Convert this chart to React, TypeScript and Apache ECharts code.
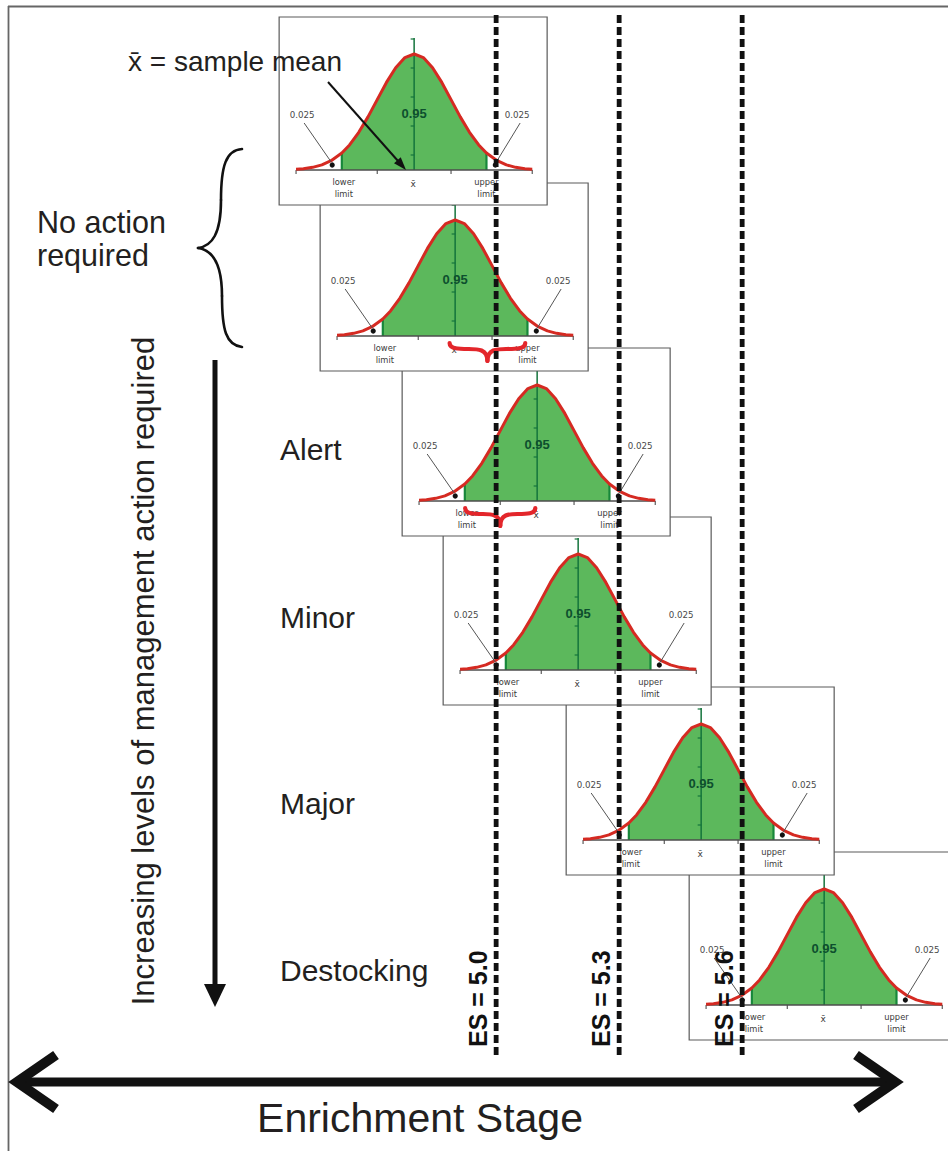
import React, { useEffect, useRef } from "react";
import * as echarts from "echarts";

// ---------------- data ----------------
// sample means (enrichment stage units) of the six distributions, top to bottom
const PANEL_MEANS = [4.8, 4.9, 5.1, 5.2, 5.5, 5.8];
// standard error of each sampling distribution (ES units)
const SIGMA = 0.09;
// normal curve shape: offsets in sigma and relative heights
const CURVE_Z = [-3.2, -3, -2.75, -2.5, -2.25, -1.96, -1.75, -1.5, -1.25, -1, -0.75, -0.5, -0.25, 0, 0.25, 0.5, 0.75, 1, 1.25, 1.5, 1.75, 1.96, 2.25, 2.5, 2.75, 3, 3.2];
const CURVE_H = [0.006, 0.011, 0.023, 0.044, 0.08, 0.146, 0.216, 0.325, 0.458, 0.607, 0.755, 0.882, 0.969, 1, 0.969, 0.882, 0.755, 0.607, 0.458, 0.325, 0.216, 0.146, 0.08, 0.044, 0.023, 0.011, 0.006];
const LIMIT_Z = 1.96;
const TAIL_LABEL = "0.025";
const CENTER_LABEL = "0.95";
const LOWER_LABEL = ["lower", "limit"];
const UPPER_LABEL = ["upper", "limit"];
const MEAN_SYMBOL = "x\u0304";
// thresholds
const THRESHOLDS = [5.0, 5.3, 5.6];
const THRESHOLD_LABELS = ["ES = 5.0", "ES = 5.3", "ES = 5.6"];
// red braces (span in sigma units) for panels 2 and 3
const BRACE_SPANS: (number[] | null)[] = [null, [-0.15, 1.9], [-1.95, -0.05], null, null, null];
// text
const NO_ACTION_LINES = ["No action", "required"];
const LEVEL_LABELS = ["Alert", "Minor", "Major", "Destocking"];
const SIDE_TITLE = "Increasing levels of management action required";
const AXIS_TITLE = "Enrichment Stage";
const MEAN_NOTE = "x\u0304 = sample mean";

// ---------------- layout ----------------
const LAYOUT = {
  width: 948,
  height: 1151,
  esMin: 3.79,
  esMax: 6.102,
  panelBaseY: [170, 336, 501, 670, 840, 1005],
  peak: 116,
  boxLeft: 135,
  boxW: 268,
  boxTop: 153,
  boxH: 188,
  esTop: 15,
  esBottom: 1058,
  esLabelBottom: 1047,
  levelY: [449, 617, 803, 970],
};

const SANS = '"Liberation Sans", Arial, Helvetica, sans-serif';
const SMALL = '"DejaVu Sans", Verdana, sans-serif';
const INK = "#231f20";

function txt(x: number, y: number, text: string, o: any = {}) {
  const align = o.align || "left";
  const va = o.va || "middle";
  return {
    type: "text",
    x,
    y,
    rotation: o.rotation || 0,
    z: o.z,
    z2: o.z2,
    style: {
      text,
      fill: o.fill || INK,
      fontSize: o.size || 12,
      fontFamily: o.family || SANS,
      fontWeight: o.weight || "normal",
      align,
      textAlign: align,
      verticalAlign: va,
      textVerticalAlign: va,
    },
  };
}

function seg(x1: number, y1: number, x2: number, y2: number, stroke: string, lw: number, extra: any = {}) {
  return {
    type: "line",
    shape: { x1, y1, x2, y2 },
    style: { stroke, lineWidth: lw, fill: "none", ...(extra.style || {}) },
    z: extra.z,
    z2: extra.z2,
  };
}

function renderPanel(params: any, api: any) {
  const mean = api.value(0) as number;
  const baseY = api.value(1) as number;
  const idx = api.value(2) as number;
  let zc = (10 - idx) * 60;
  const nz = () => zc++;
  const pt = (zz: number, h: number) => api.coord([mean + zz * SIGMA, baseY - h * LAYOUT.peak]);
  const [cx, by] = api.coord([mean, baseY]);
  const ch: any[] = [];

  ch.push({
    type: "rect",
    shape: { x: cx - LAYOUT.boxLeft, y: by - LAYOUT.boxTop, width: LAYOUT.boxW, height: LAYOUT.boxH },
    style: { fill: "#ffffff", stroke: "#5a5a5a", lineWidth: 1.2 },
    z2: nz(),
  });

  // green 95% area
  const green: number[][] = [];
  CURVE_Z.forEach((zz, i) => {
    if (zz >= -LIMIT_Z - 1e-9 && zz <= LIMIT_Z + 1e-9) green.push(pt(zz, CURVE_H[i]));
  });
  green.push(pt(LIMIT_Z, 0));
  green.push(pt(-LIMIT_Z, 0));
  ch.push({ type: "polygon", shape: { points: green }, style: { fill: "#5cb85c", stroke: "none" }, z2: nz() });

  // limit lines
  const hL = CURVE_H[CURVE_Z.indexOf(-LIMIT_Z)];
  [-1, 1].forEach((s) => {
    const a = pt(s * LIMIT_Z, 0);
    const b = pt(s * LIMIT_Z, hL);
    ch.push(seg(a[0], a[1], b[0], b[1], "#17873a", 2.2, { z2: nz() }));
  });

  // center vertical axis with ticks
  ch.push(seg(cx, by, cx, by - 132, "#14743c", 1.5, { z2: nz() }));
  for (let k = 0; k < 5; k++) {
    const ty = by - 15 - 29 * k;
    ch.push(seg(cx - 3.5, ty, cx, ty, "#14743c", 1.2, { z2: nz() }));
  }

  // baseline axis
  const l0 = pt(CURVE_Z[0], 0);
  const l1 = pt(CURVE_Z[CURVE_Z.length - 1], 0);
  ch.push(seg(l0[0], l0[1], l1[0], l1[1], "#4d4d4d", 1.3, { z2: nz() }));
  [CURVE_Z[0], -1, 1, CURVE_Z[CURVE_Z.length - 1]].forEach((zz) => {
    const p = pt(zz, 0);
    ch.push(seg(p[0], p[1], p[0], p[1] + 4, "#4d4d4d", 1.1, { z2: nz() }));
  });

  // red curve
  ch.push({
    type: "polyline",
    shape: { points: CURVE_Z.map((zz, i) => pt(zz, CURVE_H[i])) },
    style: { stroke: "#d52a22", lineWidth: 3, fill: "none", lineJoin: "round" },
    z2: nz(),
  });

  // tail dots and leader lines
  const dl = pt(-2.22, 0);
  const dr = pt(2.2, 0);
  ch.push({ type: "circle", shape: { cx: dl[0], cy: dl[1] - 5, r: 2.6 }, style: { fill: "#111" }, z2: nz() });
  ch.push({ type: "circle", shape: { cx: dr[0], cy: dr[1] - 5, r: 2.6 }, style: { fill: "#111" }, z2: nz() });
  ch.push(seg(cx - 110, by - 47, dl[0] - 1, by - 8, "#555", 1, { z2: nz() }));
  ch.push(seg(cx + 106, by - 47, dr[0] + 1, by - 8, "#555", 1, { z2: nz() }));
  ch.push(txt(cx - 112, by - 55, TAIL_LABEL, { align: "center", size: 8.7, family: SMALL, fill: "#4a4a4a", z2: nz() }));
  ch.push(txt(cx + 103, by - 55, TAIL_LABEL, { align: "center", size: 8.7, family: SMALL, fill: "#4a4a4a", z2: nz() }));

  // 0.95
  ch.push(txt(cx, by - 57, CENTER_LABEL, { align: "center", size: 13, weight: "bold", fill: "#0d4f2e", z2: nz() }));

  // labels below the axis
  const xl = pt(-LIMIT_Z, 0)[0] + 2;
  const xu = pt(LIMIT_Z, 0)[0];
  ch.push(txt(xl, by + 12, LOWER_LABEL[0], { align: "center", size: 8.3, family: SMALL, fill: "#3a3a3a", z2: nz() }));
  ch.push(txt(xl, by + 24, LOWER_LABEL[1], { align: "center", size: 8.3, family: SMALL, fill: "#3a3a3a", z2: nz() }));
  ch.push(txt(xu, by + 12, UPPER_LABEL[0], { align: "center", size: 8.3, family: SMALL, fill: "#3a3a3a", z2: nz() }));
  ch.push(txt(xu, by + 24, UPPER_LABEL[1], { align: "center", size: 8.3, family: SMALL, fill: "#3a3a3a", z2: nz() }));
  ch.push(txt(cx - 1, by + 14, MEAN_SYMBOL, { align: "center", size: 9, family: SMALL, fill: "#3a3a3a", z2: nz() }));

  // red brace
  const span = BRACE_SPANS[idx];
  if (span) {
    const xa = pt(span[0], 0)[0];
    const xb = pt(span[1], 0)[0];
    const w = xb - xa;
    const xm = (xa + xb) / 2;
    const t = by + 7;
    const m = by + 13;
    const p = by + 25;
    const bz = (x1: number, y1: number, c1x: number, c1y: number, c2x: number, c2y: number, x2: number, y2: number) => ({
      type: "bezierCurve",
      shape: { x1, y1, cpx1: c1x, cpy1: c1y, cpx2: c2x, cpy2: c2y, x2, y2 },
      style: { stroke: "#e3262b", lineWidth: 4.2, fill: "none", lineCap: "round" },
      z2: nz(),
    });
    ch.push(bz(xa, t, xa, m, xa + w / 8, m, xa + w / 4, m));
    ch.push(bz(xa + w / 4, m, xm - w / 8, m, xm, m, xm, p));
    ch.push(bz(xm, p, xm, m, xm + w / 8, m, xb - w / 4, m));
    ch.push(bz(xb - w / 4, m, xb - w / 8, m, xb, m, xb, t));
  }

  return { type: "group", children: ch };
}

function renderThreshold(params: any, api: any) {
  const es = api.value(0) as number;
  const i = api.value(2) as number;
  const [x, yTop] = api.coord([es, LAYOUT.esTop]);
  const [, yBot] = api.coord([es, LAYOUT.esBottom]);
  const [, yLab] = api.coord([es, LAYOUT.esLabelBottom]);
  return {
    type: "group",
    children: [
      {
        type: "line",
        shape: { x1: x, y1: yTop, x2: x, y2: yBot },
        style: { stroke: "#111111", lineWidth: 4.8, lineDash: [8, 4], fill: "none" },
      },
      txt(x - 18, yLab, THRESHOLD_LABELS[i], { rotation: Math.PI / 2, size: 25, weight: "bold", fill: "#111" }),
    ],
  };
}

function buildGraphic() {
  const Z = 100;
  const els: any[] = [];
  // frame
  els.push(seg(8, 6.5, 948, 6.5, "#666", 1.8, { z: Z }));
  els.push(seg(8.5, 6, 8.5, 1151, "#666", 1.8, { z: Z }));

  // mean annotation
  els.push(txt(128, 61, MEAN_NOTE, { size: 28, z: Z }));
  const ax0 = 328, ay0 = 82, ax1 = 406, ay1 = 170;
  const dx = ax1 - ax0, dy = ay1 - ay0;
  const len = Math.hypot(dx, dy);
  const ux = dx / len, uy = dy / len;
  const nx = -uy, ny = ux;
  els.push(seg(ax0, ay0, ax1 - ux * 8, ay1 - uy * 8, "#111", 2, { z: Z }));
  els.push({
    type: "polygon",
    shape: {
      points: [
        [ax1, ay1],
        [ax1 - ux * 13 + nx * 4.5, ay1 - uy * 13 + ny * 4.5],
        [ax1 - ux * 13 - nx * 4.5, ay1 - uy * 13 - ny * 4.5],
      ],
    },
    style: { fill: "#111" },
    z: Z,
  });

  // no action required + brace
  els.push(txt(37, 221.5, NO_ACTION_LINES[0], { size: 30.5, z: Z }));
  els.push(txt(37, 254.5, NO_ACTION_LINES[1], { size: 30.5, z: Z }));
  const braceStyle = { stroke: "#111", lineWidth: 2.6, fill: "none", lineCap: "round" };
  const bc = (x1: number, y1: number, c1x: number, c1y: number, c2x: number, c2y: number, x2: number, y2: number) => ({
    type: "bezierCurve",
    shape: { x1, y1, cpx1: c1x, cpy1: c1y, cpx2: c2x, cpy2: c2y, x2, y2 },
    style: braceStyle,
    z: Z,
  });
  els.push(bc(242, 149, 226, 150, 221, 166, 221, 200));
  els.push(bc(221, 200, 221, 234, 212, 246, 198, 248));
  els.push(bc(198, 248, 212, 250, 222, 262, 222, 296));
  els.push(bc(222, 296, 222, 330, 226, 345, 242, 347));

  // side title + down arrow
  els.push(txt(143, 671, SIDE_TITLE, { align: "center", size: 31, rotation: Math.PI / 2, z: Z }));
  els.push(seg(215, 360, 215, 990, "#111", 5, { z: Z }));
  els.push({ type: "polygon", shape: { points: [[204, 984], [226, 984], [215, 1007]] }, style: { fill: "#111" }, z: Z });

  // level labels
  LEVEL_LABELS.forEach((s, i) => els.push(txt(280, LAYOUT.levelY[i], s, { size: 30, z: Z })));

  // enrichment stage double arrow
  els.push(seg(20, 1082, 893, 1082, "#111", 9, { z: Z }));
  els.push({
    type: "polyline",
    shape: { points: [[56, 1055], [17, 1082], [56, 1109]] },
    style: { stroke: "#111", lineWidth: 10, fill: "none", lineJoin: "miter", lineCap: "butt", miterLimit: 10 },
    z: Z,
  });
  els.push({
    type: "polyline",
    shape: { points: [[856, 1055], [895, 1082], [856, 1109]] },
    style: { stroke: "#111", lineWidth: 10, fill: "none", lineJoin: "miter", lineCap: "butt", miterLimit: 10 },
    z: Z,
  });
  els.push(txt(420, 1118, AXIS_TITLE, { align: "center", size: 41, z: Z }));
  return els;
}

function buildOption() {
  const panelData = PANEL_MEANS.map((m, i) => [m, LAYOUT.panelBaseY[i], i]);
  const thresholdData = THRESHOLDS.map((v, i) => [v, LAYOUT.esBottom, i]);
  return {
    animation: false,
    backgroundColor: "#ffffff",
    grid: { left: 0, right: 0, top: 0, bottom: 0, containLabel: false },
    xAxis: { type: "value", min: LAYOUT.esMin, max: LAYOUT.esMax, show: false },
    yAxis: { type: "value", min: 0, max: LAYOUT.height, inverse: true, show: false },
    series: [
      {
        type: "custom",
        coordinateSystem: "cartesian2d",
        renderItem: renderPanel,
        data: panelData,
        encode: { x: 0, y: 1 },
        clip: false,
        silent: true,
        z: 2,
      },
      {
        type: "custom",
        coordinateSystem: "cartesian2d",
        renderItem: renderThreshold,
        data: thresholdData,
        encode: { x: 0, y: 1 },
        clip: false,
        silent: true,
        z: 5,
      },
    ],
    graphic: { elements: buildGraphic() },
  };
}

export default function App() {
  const ref = useRef<HTMLDivElement>(null);
  useEffect(() => {
    if (!ref.current) return;
    const chart = echarts.init(ref.current, undefined, { renderer: "svg" });
    chart.setOption(buildOption() as any);
    return () => chart.dispose();
  }, []);
  return (
    <div
      ref={ref}
      style={{ position: "absolute", left: 0, top: 0, width: LAYOUT.width, height: LAYOUT.height, background: "#fff" }}
    />
  );
}
